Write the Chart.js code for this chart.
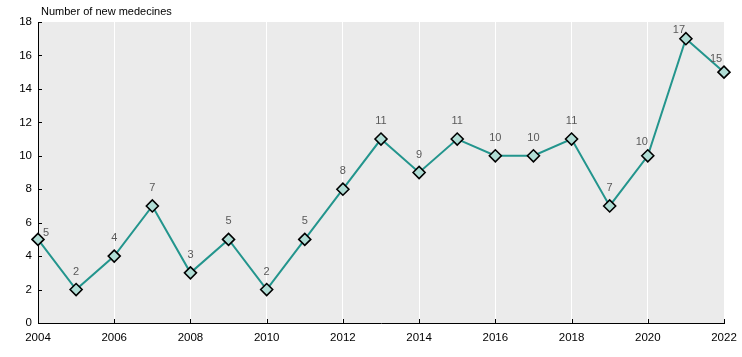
<!DOCTYPE html>
<html>
<head>
<meta charset="utf-8">
<script src="https://cdn.jsdelivr.net/npm/chart.js@4/dist/chart.umd.min.js"></script>
<style>
html,body{margin:0;padding:0;background:#fff;}
#wrap{width:742px;height:357px;position:relative;}
</style>
</head>
<body>
<div id="wrap"><canvas id="c" width="742" height="357"></canvas></div>
<script>
const years = [2004,2005,2006,2007,2008,2009,2010,2011,2012,2013,2014,2015,2016,2017,2018,2019,2020,2021,2022];
const newMedicines = [5,2,4,7,3,5,2,5,8,11,9,11,10,10,11,7,10,17,15];
const yTicks = [0,2,4,6,8,10,12,14,16,18];
const xTicks = [2004,2006,2008,2010,2012,2014,2016,2018,2020,2022];
const axisTitle = 'Number of new medecines';

const FONT = '"Liberation Sans", Arial, sans-serif';

const bgPlugin = {
  id: 'bg',
  beforeDraw(chart) {
    const {ctx, chartArea: a} = chart;
    ctx.save();
    ctx.fillStyle = '#ebebeb';
    ctx.fillRect(a.left, a.top, a.right - a.left, a.bottom - a.top);
    ctx.restore();
  },
  afterDraw(chart) {
    const {ctx, chartArea: a, scales} = chart;
    ctx.save();
    ctx.strokeStyle = '#000';
    ctx.lineWidth = 1;
    ctx.beginPath();
    xTicks.forEach(v => {
      const x = Math.round(scales.x.getPixelForValue(v)) + 0.5;
      ctx.moveTo(x, a.bottom);
      ctx.lineTo(x, a.bottom - 4);
    });
    yTicks.forEach(v => {
      const y = Math.round(scales.y.getPixelForValue(v)) + 0.5;
      ctx.moveTo(a.left, y);
      ctx.lineTo(a.left + 4, y);
    });
    ctx.stroke();
    ctx.fillStyle = '#000';
    ctx.font = '11px ' + FONT;
    ctx.textAlign = 'left';
    ctx.textBaseline = 'alphabetic';
    ctx.fillText(axisTitle, a.left + 3, 15);
    ctx.fillStyle = '#595959';
    ctx.font = '11px ' + FONT;
    const meta = chart.getDatasetMeta(0);
    const n = years.length;
    meta.data.forEach((pt, i) => {
      let dx = 0, dy = -15, align = 'center';
      if (i === 0) { dx = 5; dy = -3; align = 'left'; }
      if (i === n - 3) { dx = -6; dy = -11; }
      if (i === n - 2) { dx = -7; dy = -6; }
      if (i === n - 1) { dx = -8; dy = -10; }
      ctx.textAlign = align;
      ctx.fillText(String(newMedicines[i]), pt.x + dx, pt.y + dy);
    });
    ctx.restore();
  }
};

new Chart(document.getElementById('c'), {
  type: 'line',
  data: {
    datasets: [{
      data: years.map((y, i) => ({x: y, y: newMedicines[i]})),
      borderColor: '#23958d',
      borderWidth: 2,
      pointStyle: 'rectRot',
      pointRadius: 6,
      pointHoverRadius: 6,
      pointBackgroundColor: '#b0ddd5',
      pointBorderColor: '#000',
      pointBorderWidth: 1.6,
      tension: 0,
      clip: false
    }]
  },
  options: {
    responsive: false,
    animation: false,
    devicePixelRatio: 1,
    layout: { padding: { top: 22, right: 18, left: 0, bottom: 0 } },
    plugins: { legend: { display: false }, tooltip: { enabled: false }, title: { display: false } },
    scales: {
      x: {
        type: 'linear',
        min: 2004,
        max: 2022,
        afterBuildTicks(scale) { scale.ticks = xTicks.map(v => ({value: v})); },
        afterFit(scale) { scale.height = 34; scale.paddingRight = 0; scale.paddingLeft = 0; },
        grid: { color: '#ffffff', lineWidth: 1, drawTicks: false },
        border: { display: true, color: '#000', width: 1 },
        ticks: {
          color: '#000',
          font: { family: FONT, size: 11.5 },
          padding: 8,
          maxRotation: 0,
          callback: v => String(v)
        }
      },
      y: {
        min: 0,
        max: 18,
        afterBuildTicks(scale) { scale.ticks = yTicks.map(v => ({value: v})); },
        afterFit(scale) { scale.width = 38; scale.paddingTop = 0; scale.paddingBottom = 0; },
        grid: { display: false, drawTicks: false },
        border: { display: true, color: '#000', width: 1 },
        ticks: {
          color: '#000',
          font: { family: FONT, size: 11.5 },
          padding: 6
        }
      }
    }
  },
  plugins: [bgPlugin]
});
</script>
</body>
</html>
